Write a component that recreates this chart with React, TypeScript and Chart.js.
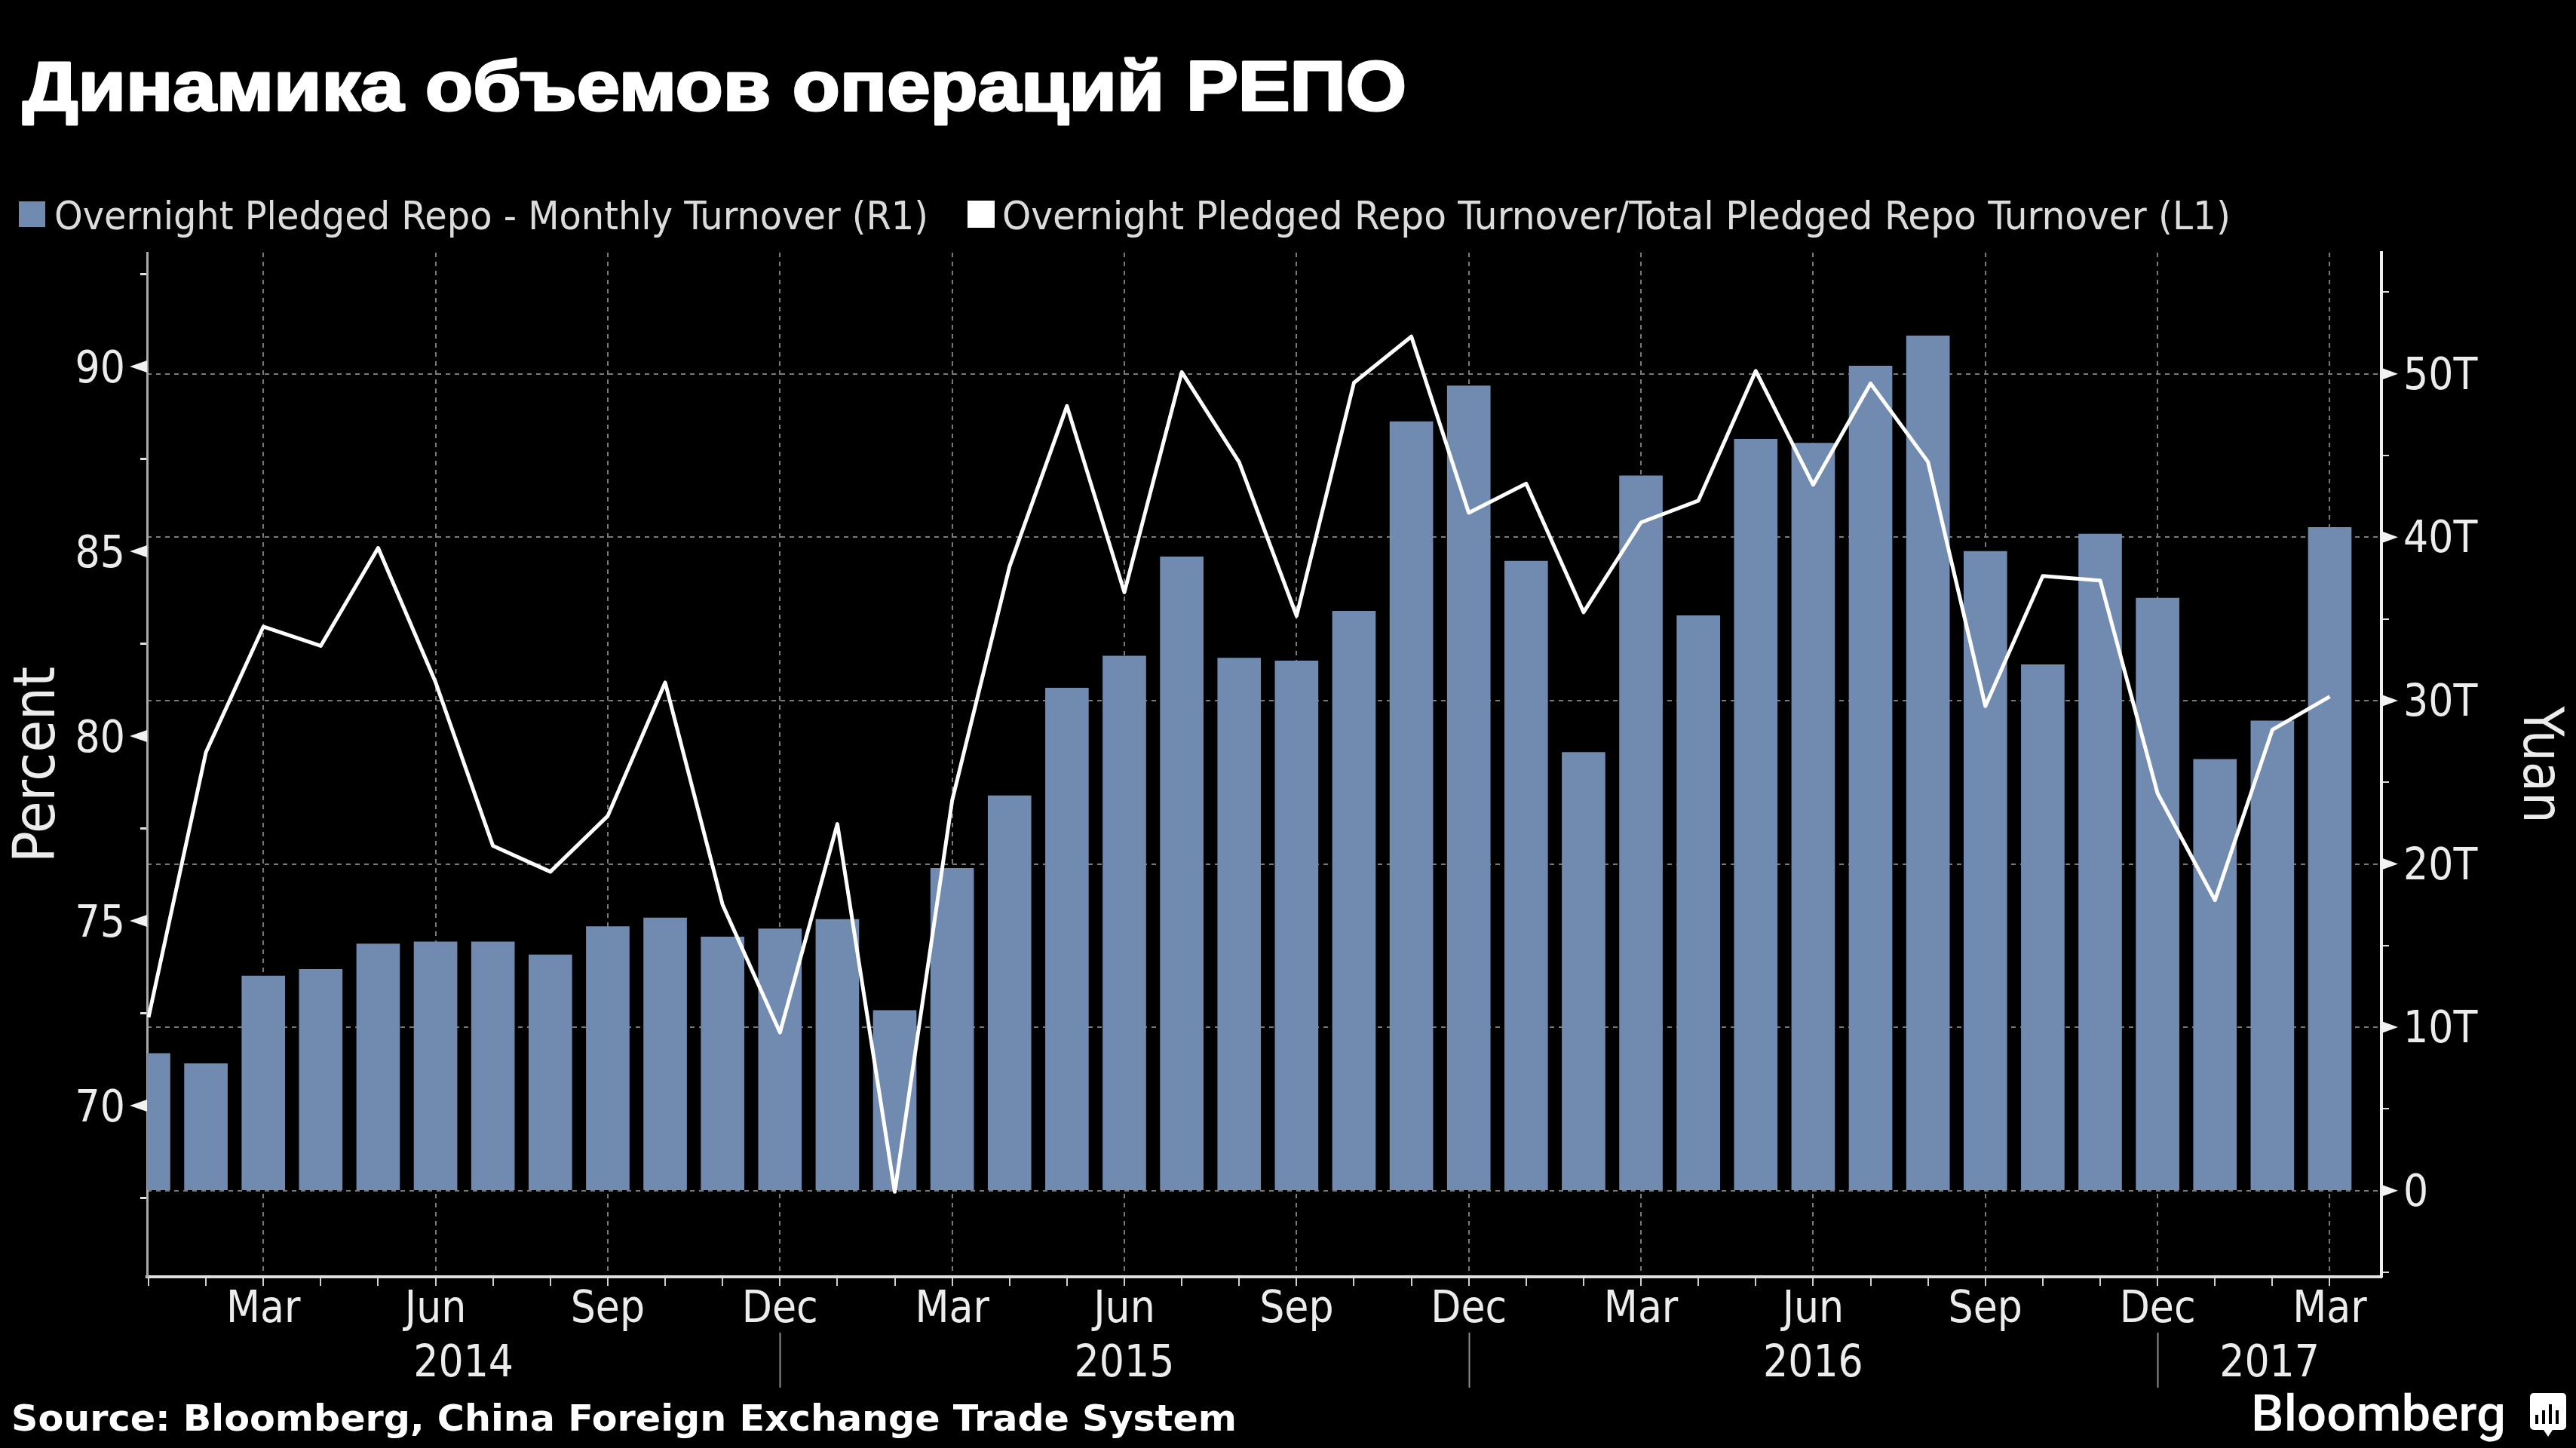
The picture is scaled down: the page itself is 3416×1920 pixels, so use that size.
import React, { useEffect, useRef } from "react";
import { Chart, registerables } from "chart.js";

Chart.register(...registerables);

const titleText = "Динамика объемов операций РЕПО";
const sourceText = "Source: Bloomberg, China Foreign Exchange Trade System";
const brandText = "Bloomberg";

const months = [
  "Jan", "Feb", "Mar", "Apr", "May", "Jun", "Jul", "Aug", "Sep", "Oct", "Nov", "Dec",
  "Jan", "Feb", "Mar", "Apr", "May", "Jun", "Jul", "Aug", "Sep", "Oct", "Nov", "Dec",
  "Jan", "Feb", "Mar", "Apr", "May", "Jun", "Jul", "Aug", "Sep", "Oct", "Nov", "Dec",
  "Jan", "Feb", "Mar",
];
const years = ["2014", "2015", "2016", "2017"];
const yearEndIndexes = [11, 23, 35];

const turnoverLabel = "Overnight Pledged Repo - Monthly Turnover (R1)";
const turnoverT = [
  8.4, 7.77, 13.14, 13.54, 15.1, 15.23, 15.23, 14.43, 16.17, 16.7, 15.53, 16.03,
  16.6, 11.03, 19.73, 24.17, 30.77, 32.73, 38.8, 32.6, 32.43, 35.48, 47.07, 49.27,
  38.53, 26.83, 43.76, 35.2, 46.0, 45.76, 50.48, 52.33, 39.13, 32.2, 40.2, 36.27,
  26.4, 28.76, 40.6,
];

const shareLabel = "Overnight Pledged Repo Turnover/Total Pledged Repo Turnover (L1)";
const sharePercent = [
  72.39, 79.56, 82.96, 82.44, 85.09, 81.46, 77.03, 76.33, 77.84, 81.45, 75.44, 71.98,
  77.62, 67.67, 78.26, 84.59, 88.93, 83.89, 89.85, 87.41, 83.25, 89.56, 90.81, 86.04,
  86.83, 83.35, 85.78, 86.37, 89.88, 86.8, 89.54, 87.42, 80.81, 84.33, 84.21, 78.45,
  75.56, 80.17, 81.07,
];

const BG = "#000000";
const BAR = "#718aaf";
const TEXT = "#ececec";
const GRID = "#7a7a7a";
const COND = '"DejaVu Sans Condensed", "DejaVu Sans", sans-serif';

function fitText(
  ctx: CanvasRenderingContext2D,
  text: string,
  x: number,
  baseline: number,
  width: number,
  font: string,
  color: string,
  strokeWidth = 0
) {
  ctx.save();
  ctx.font = font;
  ctx.fillStyle = color;
  ctx.textAlign = "left";
  ctx.textBaseline = "alphabetic";
  const w = ctx.measureText(text).width;
  ctx.translate(x, baseline);
  ctx.scale(width / w, 1);
  ctx.fillText(text, 0, 0);
  if (strokeWidth > 0) {
    ctx.strokeStyle = color;
    ctx.lineWidth = strokeWidth;
    ctx.lineJoin = "round";
    ctx.strokeText(text, 0, 0);
  }
  ctx.restore();
}

const overlay = {
  id: "overlay",
  beforeDraw(chart: any) {
    const { ctx, width, height } = chart;
    ctx.save();
    ctx.fillStyle = BG;
    ctx.fillRect(0, 0, width, height);
    ctx.restore();
  },
  afterDraw(chart: any) {
    const { ctx, chartArea, scales } = chart;
    const { x, yL, yR } = scales;

    ctx.save();
    ctx.fillStyle = "#f2f2f2";
    yL.ticks.forEach((t: any) => {
      if (t.value % 5 !== 0) return;
      const p = yL.getPixelForValue(t.value);
      ctx.beginPath();
      ctx.moveTo(chartArea.left, p - 8);
      ctx.lineTo(chartArea.left - 23, p);
      ctx.lineTo(chartArea.left, p + 8);
      ctx.closePath();
      ctx.fill();
    });
    yR.ticks.forEach((t: any) => {
      if (t.value % 10 !== 0 || t.value < 0) return;
      const p = yR.getPixelForValue(t.value);
      ctx.beginPath();
      ctx.moveTo(chartArea.right, p - 8);
      ctx.lineTo(chartArea.right + 22, p);
      ctx.lineTo(chartArea.right, p + 8);
      ctx.closePath();
      ctx.fill();
    });

    const edges = [chartArea.left, ...yearEndIndexes.map((i) => x.getPixelForValue(i)), chartArea.right];
    ctx.strokeStyle = "#8c8c8c";
    ctx.lineWidth = 2;
    yearEndIndexes.forEach((i) => {
      const p = Math.round(x.getPixelForValue(i)) + 0.5;
      ctx.beginPath();
      ctx.moveTo(p, 1767);
      ctx.lineTo(p, 1840);
      ctx.stroke();
    });
    ctx.fillStyle = TEXT;
    ctx.font = `58px ${COND}`;
    ctx.textAlign = "center";
    ctx.textBaseline = "alphabetic";
    years.forEach((y, i) => ctx.fillText(y, (edges[i] + edges[i + 1]) / 2, 1825));
    ctx.restore();

    fitText(ctx, titleText, 30, 146, 1835, 'bold 92px "Liberation Sans", sans-serif', "#ffffff", 3);

    ctx.save();
    ctx.fillStyle = BAR;
    ctx.fillRect(25, 267, 35, 34);
    ctx.fillStyle = "#ffffff";
    ctx.fillRect(1283, 266, 36, 36);
    ctx.restore();
    fitText(ctx, turnoverLabel, 72, 304, 1159, `52px ${COND}`, "#dcdcdc");
    fitText(ctx, shareLabel, 1329, 304, 1629, `52px ${COND}`, "#dcdcdc");

    fitText(ctx, sourceText, 15, 1897, 1625, 'bold 48px "DejaVu Sans", sans-serif', "#ffffff");
    fitText(ctx, brandText, 2985, 1897, 338, '500 66px Roboto, "Liberation Sans", sans-serif', "#ffffff");

    ctx.save();
    ctx.fillStyle = "#ffffff";
    ctx.beginPath();
    ctx.roundRect(3355, 1847, 48, 49, 5);
    ctx.fill();
    ctx.beginPath();
    ctx.moveTo(3373, 1896);
    ctx.lineTo(3379, 1905);
    ctx.lineTo(3385, 1896);
    ctx.closePath();
    ctx.fill();
    ctx.fillStyle = "#000000";
    [[3362, 1876], [3371, 1870], [3380, 1862], [3389, 1870]].forEach(([bx, by]) => {
      ctx.fillRect(bx, by, 4, 1888 - by);
    });
    ctx.restore();
  },
};

export default function App() {
  const ref = useRef<HTMLCanvasElement>(null);

  useEffect(() => {
    document.body.style.margin = "0";
    document.body.style.background = BG;
    const chart = new Chart(ref.current as HTMLCanvasElement, {
      type: "bar",
      data: {
        datasets: [
          {
            type: "line",
            label: shareLabel,
            data: sharePercent.map((v, i) => ({ x: i, y: v })),
            yAxisID: "yL",
            xAxisID: "x",
            borderColor: "#ffffff",
            borderWidth: 5,
            pointRadius: 0,
            tension: 0,
            borderJoinStyle: "round",
            order: 1,
          },
          {
            type: "bar",
            label: turnoverLabel,
            data: turnoverT.map((v, i) => ({ x: i, y: v })),
            yAxisID: "yR",
            xAxisID: "x",
            backgroundColor: BAR,
            barThickness: 57,
            order: 2,
          },
        ],
      } as any,
      options: {
        responsive: false,
        animation: false,
        devicePixelRatio: 1,
        layout: { padding: { top: 335, left: 0, right: 0, bottom: 0 } },
        plugins: { legend: { display: false }, title: { display: false }, tooltip: { enabled: false } },
        scales: {
          x: {
            type: "linear",
            offset: false,
            min: -0.026,
            max: 38.9,
            afterFit: (s: any) => { s.height = 227; },
            border: { color: "#dddddd", width: 4, dash: [6, 6] },
            grid: {
              offset: false,
              color: (c: any) => (c.tick && c.tick.value % 3 === 2 ? GRID : "rgba(0,0,0,0)"),
              lineWidth: 2,
              tickColor: "#cfcfcf",
              tickWidth: 2,
              tickLength: 12,
            },
            ticks: {
              stepSize: 1,
              includeBounds: false,
              autoSkip: false,
              maxRotation: 0,
              minRotation: 0,
              color: TEXT,
              padding: -2,
              font: { family: COND, size: 58 },
              callback: (v: any) => (Number(v) % 3 === 2 ? months[Number(v)] : ""),
            },
          } as any,
          yL: {
            position: "left",
            min: 65.37,
            max: 93.08,
            afterFit: (s: any) => { s.width = 195; },
            border: { color: "#aaaaaa", width: 3 },
            grid: { drawOnChartArea: false, tickColor: "#e0e0e0", tickWidth: 3, tickLength: 9 },
            ticks: {
              stepSize: 2.5,
              includeBounds: false,
              autoSkip: false,
              color: TEXT,
              padding: 20,
              labelOffset: 6,
              font: { family: COND, size: 58 },
              callback: (v: any) => (Number(v) % 5 === 0 ? String(v) : ""),
            },
            title: {
              display: true,
              text: "Percent",
              color: TEXT,
              padding: { top: 6, bottom: 6 },
              font: { family: COND, size: 77 },
            },
          } as any,
          yR: {
            position: "right",
            min: -5.277,
            max: 57.42,
            afterFit: (s: any) => { s.width = 258; },
            border: { color: "#f0f0f0", width: 4, dash: [6, 6] },
            grid: {
              color: (c: any) => (c.tick && c.tick.value % 10 === 0 && c.tick.value >= 0 ? GRID : "rgba(0,0,0,0)"),
              lineWidth: 2,
              tickColor: "#dddddd",
              tickWidth: 2,
              tickLength: 10,
            },
            ticks: {
              stepSize: 5,
              includeBounds: false,
              autoSkip: false,
              color: TEXT,
              padding: 19,
              labelOffset: 5,
              font: { family: COND, size: 58 },
              callback: (v: any) => {
                const n = Number(v);
                if (n % 10 !== 0 || n < 0) return "";
                return n === 0 ? "0" : `${n}T`;
              },
            },
            title: {
              display: true,
              text: "Yuan",
              color: TEXT,
              padding: { top: 6, bottom: 10 },
              font: { family: COND, size: 73 },
            },
          } as any,
        },
      },
      plugins: [overlay],
    } as any);
    return () => chart.destroy();
  }, []);

  return (
    <div style={{ position: "fixed", left: 0, top: 0, width: 3416, height: 1920, background: BG }}>
      <canvas ref={ref} width={3416} height={1920} style={{ display: "block", width: 3416, height: 1920 }} />
    </div>
  );
}
